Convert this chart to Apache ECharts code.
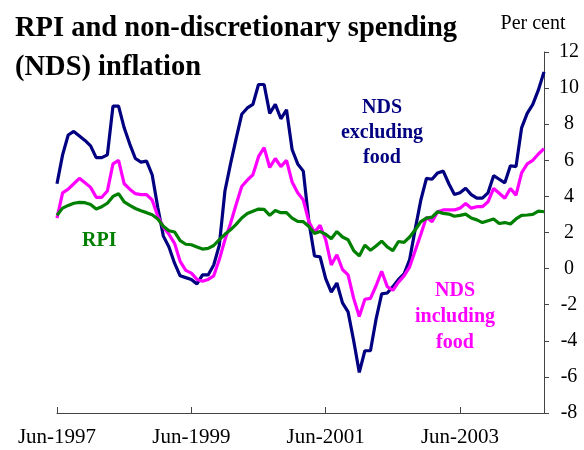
<!DOCTYPE html>
<html>
<head>
    <meta charset="utf-8" />
    <title>RPI and NDS inflation</title>
</head>
<body style="margin:0">
<script src="https://cdn.jsdelivr.net/npm/echarts@6/dist/echarts.min.js"></script>
<div id="main" style="width: 584px;height:450px;"></div>
<script type="text/javascript">
    // monthly, Jun-1997 .. Sep-2004
    var monthNames = ['Jan', 'Feb', 'Mar', 'Apr', 'May', 'Jun', 'Jul', 'Aug', 'Sep', 'Oct', 'Nov', 'Dec'];
    var startYear = 1997, startMonth = 5, nMonths = 88;
    var categories = [];
    for (var k = 0; k < nMonths; k++) {
        var m = startMonth + k;
        categories.push(monthNames[m % 12] + '-' + (startYear + Math.floor(m / 12)));
    }

    var ndsExFood = [
        4.7, 6.3, 7.4, 7.6, 7.35, 7.1, 6.8, 6.15, 6.15, 6.3,
        9.0, 9.0, 7.8, 6.9, 6.1, 5.9, 5.95, 5.2, 3.4, 1.8,
        1.2, 0.3, -0.4, -0.5, -0.6, -0.85, -0.35, -0.35, 0.2, 1.3,
        4.3, 5.8, 7.2, 8.55, 8.9, 9.1, 10.2, 10.2, 8.6, 9.1,
        8.3, 8.8, 6.6, 5.8, 5.4, 2.6, 0.7, 0.65, -0.55, -1.3,
        -0.8, -1.9, -2.4, -4.0, -5.75, -4.55, -4.55, -2.8, -1.4, -1.35,
        -1.0, -0.6, -0.3, 0.5, 2.2, 3.8, 5.0, 4.95, 5.3, 5.4,
        4.7, 4.1, 4.2, 4.45, 4.1, 3.9, 3.9, 4.2, 5.15, 4.95,
        4.75, 5.7, 5.65, 7.8, 8.6, 9.1, 9.9, 10.9
    ];
    var ndsInclFood = [
        2.8, 4.2, 4.4, 4.7, 5.0, 4.75, 4.5, 3.95, 3.95, 4.3,
        5.8, 6.0, 4.7, 4.4, 4.15, 4.1, 4.1, 3.8, 2.9, 2.3,
        1.9, 1.4, 0.4, -0.1, -0.25, -0.6, -0.7, -0.6, -0.4, 0.5,
        1.6, 2.5, 3.55, 4.55, 4.9, 5.2, 6.2, 6.7, 5.6, 6.1,
        5.65, 6.0, 4.8, 4.2, 3.8, 2.6, 2.0, 2.4, 1.6, 0.2,
        0.77, -0.05, -0.35, -1.65, -2.65, -1.7, -1.65, -0.95, -0.15, -1.0,
        -1.2, -0.75, -0.4, 0.1, 1.0, 1.9, 2.85, 2.6, 3.15, 3.25,
        3.25, 3.25, 3.35, 3.6, 3.35, 3.43, 3.43, 3.7, 4.44, 4.17,
        3.9, 4.44, 4.07, 5.3, 5.8, 6.0, 6.35, 6.65
    ];
    var rpi = [
        2.95, 3.35, 3.5, 3.62, 3.67, 3.65, 3.55, 3.3, 3.43, 3.62,
        4.0, 4.15, 3.7, 3.5, 3.33, 3.2, 3.1, 2.98, 2.75, 2.35,
        2.1, 2.03, 1.55, 1.35, 1.32, 1.2, 1.08, 1.12, 1.28, 1.6,
        1.9, 2.15, 2.45, 2.8, 3.05, 3.18, 3.3, 3.28, 2.95, 3.22,
        3.1, 3.1, 2.8, 2.62, 2.6, 2.33, 1.95, 2.05, 1.9, 1.65,
        2.05, 1.75, 1.6, 1.0, 0.7, 1.3, 1.02, 1.25, 1.52, 1.2,
        1.0, 1.5, 1.45, 1.75, 2.15, 2.6, 2.8, 2.85, 3.15, 3.06,
        3.02, 2.9, 2.95, 3.02, 2.8, 2.7, 2.55, 2.65, 2.75, 2.5,
        2.55, 2.47, 2.75, 2.95, 2.97, 3.0, 3.18, 3.15
    ];

    var serif = "'Liberation Serif', 'Times New Roman', serif";

    var myChart = echarts.init(document.getElementById('main'));
    var option = {
        animation: false,
        backgroundColor: '#fff',
        title: {
            text: 'RPI and non-discretionary spending\n(NDS) inflation',
            left: 10,
            top: 4,
            textStyle: {
                fontFamily: serif,
                fontWeight: 'bold',
                fontSize: 28.5,
                lineHeight: 39,
                color: '#000'
            }
        },
        grid: { left: 57, right: 40, top: 52, bottom: 37 },
        xAxis: {
            type: 'category',
            data: categories,
            boundaryGap: false,
            axisLine: { onZero: false, lineStyle: { color: '#444' } },
            axisTick: { inside: true, length: 6, interval: 23, lineStyle: { color: '#444' } },
            axisLabel: {
                interval: 23,
                margin: 14,
                fontFamily: serif,
                fontSize: 21,
                color: '#000'
            },
            splitLine: { show: false }
        },
        yAxis: {
            type: 'value',
            position: 'right',
            min: -8,
            max: 12,
            interval: 2,
            axisLine: { show: true, lineStyle: { color: '#444' } },
            axisTick: { show: true, length: 5, lineStyle: { color: '#444' } },
            axisLabel: {
                margin: 25,
                align: 'center',
                fontFamily: serif,
                fontSize: 20,
                color: '#000'
            },
            splitLine: { show: false }
        },
        series: [
            {
                name: 'NDS excluding food',
                type: 'line',
                data: ndsExFood,
                showSymbol: false,
                lineStyle: { color: '#000080', width: 3.2 },
                itemStyle: { color: '#000080' }
            },
            {
                name: 'NDS including food',
                type: 'line',
                data: ndsInclFood,
                showSymbol: false,
                lineStyle: { color: '#ff00ff', width: 3.2 },
                itemStyle: { color: '#ff00ff' }
            },
            {
                name: 'RPI',
                type: 'line',
                data: rpi,
                showSymbol: false,
                lineStyle: { color: '#008000', width: 3.2 },
                itemStyle: { color: '#008000' }
            }
        ],
        graphic: [
            {
                type: 'text', x: 533, y: 14,
                style: {
                    text: 'Per cent', fill: '#000', align: 'center', verticalAlign: 'top',
                    font: '20px ' + serif
                }
            },
            {
                type: 'text', x: 382, y: 95,
                style: {
                    text: 'NDS\nexcluding\nfood', fill: '#000080', align: 'center', verticalAlign: 'top',
                    font: 'bold 20px ' + serif, lineHeight: 25
                }
            },
            {
                type: 'text', x: 455, y: 278,
                style: {
                    text: 'NDS\nincluding\nfood', fill: '#ff00ff', align: 'center', verticalAlign: 'top',
                    font: 'bold 20px ' + serif, lineHeight: 26
                }
            },
            {
                type: 'text', x: 82, y: 231,
                style: { text: 'RPI', fill: '#008000', verticalAlign: 'top', font: 'bold 20px ' + serif }
            }
        ]
    };
    myChart.setOption(option);
</script>
</body>
</html>
